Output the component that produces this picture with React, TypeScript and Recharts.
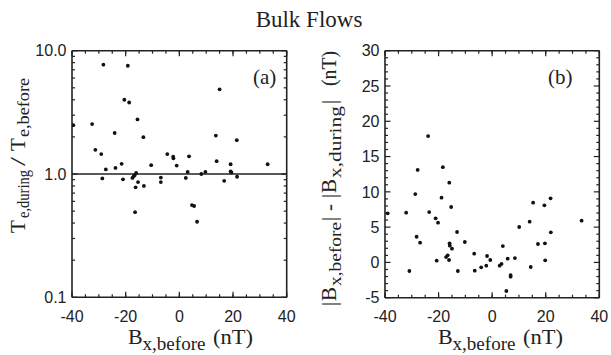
import React from "react";
import { ScatterChart, Scatter, XAxis, YAxis, ReferenceLine } from "recharts";

// ---------- data ----------
// Panel (a): B_x,before (nT) vs Te,during / Te,before
const bxA = [-39.5, -32.5, -31.3, -29.1, -28.3, -27.4, -28.7, -23.8, -24.1, -21.5, -21.0, -20.5, -19.2, -18.7, -17.5, -17.0, -16.6, -16.1, -16.3, -15.4, -13.2, -16.5, -15.6, -13.4, -10.5, -6.9, -6.9, -4.5, -2.3, -2.2, -1.0, 2.4, 3.1, 3.6, 4.7, 5.5, 6.6, 8.2, 9.7, 13.6, 13.9, 15.0, 16.7, 19.1, 19.1, 19.4, 21.4, 21.5, 32.9];
const teRatio = [2.49, 2.54, 1.57, 1.45, 7.7, 1.09, 0.92, 1.12, 2.15, 1.21, 0.905, 4.0, 7.55, 3.8, 0.93, 0.96, 0.98, 1.02, 0.78, 0.86, 0.8, 0.49, 2.77, 1.99, 1.18, 0.935, 0.86, 1.45, 1.38, 1.34, 1.17, 0.93, 1.04, 1.39, 0.56, 0.55, 0.41, 1.0, 1.04, 2.05, 1.27, 4.86, 0.88, 1.2, 1.05, 1.03, 1.88, 0.95, 1.2];

// Panel (b): B_x,before (nT) vs |Bx,before| - |Bx,during| (nT)
const bxB = [-39.0, -32.1, -30.9, -28.7, -27.8, -28.2, -26.9, -23.9, -23.5, -21.1, -20.2, -20.7, -18.4, -18.9, -16.0, -15.3, -17.2, -16.6, -16.1, -15.9, -15.8, -15.0, -13.1, -12.8, -10.2, -6.7, -6.5, -4.1, -1.9, -2.2, -0.7, 2.8, 3.5, 4.0, 5.8, 5.3, 6.9, 6.9, 8.5, 10.1, 14.0, 14.4, 15.3, 17.1, 19.5, 19.7, 19.8, 21.8, 21.9, 33.4];
const dBx = [6.96, 7.05, -1.22, 9.69, 13.1, 3.64, 2.8, 17.9, 7.14, 6.25, 5.63, 0.24, 13.5, 9.17, 11.3, 7.85, 0.75, 1.0, 0.34, 2.7, 2.37, 1.94, 4.31, -1.22, 2.89, 1.24, -1.17, -0.7, 0.91, -0.46, 0.34, -0.46, -0.22, 2.32, 0.53, -4.05, -1.79, -2.02, 0.62, 5.02, 5.77, -0.65, 8.46, 2.61, 8.09, 2.7, 0.3, 9.08, 4.27, 5.91];

// ticks
const xMajorTicks = [-40, -20, 0, 20, 40];
const xMinorTicks = [-40, -35, -30, -25, -20, -15, -10, -5, 0, 5, 10, 15, 20, 25, 30, 35, 40];
const logMajorTicks = [0.1, 1, 10];
const logMinorTicks = [0.2, 0.3, 0.4, 0.5, 0.6, 0.7, 0.8, 0.9, 2, 3, 4, 5, 6, 7, 8, 9];
const linMajorTicks = [-5, 0, 5, 10, 15, 20, 25, 30];
const linMinorTicks = [-4, -3, -2, -1, 1, 2, 3, 4, 6, 7, 8, 9, 11, 12, 13, 14, 16, 17, 18, 19, 21, 22, 23, 24, 26, 27, 28, 29];

const dataA = bxA.map((x, i) => ({ x, y: teRatio[i] }));
const dataB = bxB.map((x, i) => ({ x, y: dBx[i] }));

// ---------- layout / style ----------
const W = 611;
const H = 355;
const INK = "#222";
const SANS = "'Liberation Sans', Arial, sans-serif";
const SERIF = "'Liberation Serif', 'Times New Roman', serif";
const AXW = 40;
const AXH = 30;
const TOPH = 10;
const RIGHTW = 10;

type Frame = { left: number; right: number; top: number; bottom: number };
const frameA: Frame = { left: 72, right: 286.7, top: 50.7, bottom: 297.3 };
const frameB: Frame = { left: 385, right: 599.3, top: 50.7, bottom: 297.7 };

const marginFor = (f: Frame) => ({
  left: f.left - AXW,
  right: W - f.right - RIGHTW,
  top: f.top - TOPH,
  bottom: H - f.bottom - AXH,
});

const Dot = (props: any) => <circle cx={props.cx} cy={props.cy} r={1.9} fill="#111" />;
const blank = () => "";

type PanelProps = {
  frame: Frame;
  data?: { x: number; y: number }[];
  yDomain: [number, number];
  yScale: "log" | "linear";
  yTicks: number[];
  xTicks: number[];
  minor: boolean;
  yFmt?: (v: number) => string;
  refY?: number;
};

function Panel({ frame, data, yDomain, yScale, yTicks, xTicks, minor, yFmt, refY }: PanelProps) {
  const len = minor ? -3 : -5.5;
  const axisStyle = minor ? false : { stroke: INK, strokeWidth: 1.6 };
  const tickLine = { stroke: INK, strokeWidth: 1.2 };
  const labelStyle = { fill: INK, fontSize: 16, fontFamily: SANS };
  return (
    <div style={{ position: "absolute", left: 0, top: 0 }}>
      <ScatterChart width={W} height={H} margin={marginFor(frame)}>
        <XAxis xAxisId="b" type="number" dataKey="x" domain={[-40, 40]} ticks={xTicks} interval={0}
          orientation="bottom" height={AXH} allowDataOverflow tickSize={len} tickMargin={18.5}
          axisLine={axisStyle} tickLine={tickLine} tick={labelStyle}
          tickFormatter={minor ? blank : (v: number) => String(v)} />
        <XAxis xAxisId="t" type="number" dataKey="x" domain={[-40, 40]} ticks={xTicks} interval={0}
          orientation="top" height={TOPH} allowDataOverflow tickSize={len}
          axisLine={axisStyle} tickLine={tickLine} tick={labelStyle} tickFormatter={blank} />
        <YAxis yAxisId="l" type="number" dataKey="y" scale={yScale} domain={yDomain} ticks={yTicks} interval={0}
          orientation="left" width={AXW} allowDataOverflow tickSize={len} tickMargin={11}
          axisLine={axisStyle} tickLine={tickLine} tick={labelStyle}
          tickFormatter={minor ? blank : yFmt} />
        <YAxis yAxisId="r" type="number" dataKey="y" scale={yScale} domain={yDomain} ticks={yTicks} interval={0}
          orientation="right" width={RIGHTW} allowDataOverflow tickSize={len}
          axisLine={axisStyle} tickLine={tickLine} tick={labelStyle} tickFormatter={blank} />
        {refY !== undefined && !minor && (
          <ReferenceLine xAxisId="b" yAxisId="l" y={refY} stroke={INK} strokeWidth={1.6} />
        )}
        {data && (
          <Scatter xAxisId="b" yAxisId="l" data={data} shape={Dot} isAnimationActive={false} />
        )}
      </ScatterChart>
    </div>
  );
}

const fmtLog = (v: number) => v.toFixed(1);
const fmtLin = (v: number) => String(v);

// rotated label pieces: text, start (page y, reading upward), baseline (page x), size, forced length
type Seg = { t: string; y: number; base: number; size: number; len?: number };
const leftLabel: Seg[] = [
  { t: "T", y: 233, base: 25, size: 21 },
  { t: "e,during", y: 218, base: 29, size: 16, len: 48 },
  { t: "/", y: 166, base: 25, size: 21, len: 9 },
  { t: "T", y: 151, base: 25, size: 21 },
  { t: "e,before", y: 137, base: 29, size: 16, len: 59 },
];
const rightLabel: Seg[] = [
  { t: "|", y: 306, base: 336, size: 21 },
  { t: "B", y: 301, base: 336, size: 21 },
  { t: "x,before", y: 286, base: 341, size: 16.5, len: 64 },
  { t: "|", y: 221, base: 336, size: 21 },
  { t: "-", y: 211, base: 336, size: 21 },
  { t: "|", y: 198, base: 336, size: 21 },
  { t: "B", y: 193, base: 336, size: 21 },
  { t: "x,during", y: 178, base: 341, size: 16.5, len: 72 },
  { t: "|", y: 104, base: 336, size: 21 },
  { t: "(nT)", y: 86, base: 336, size: 21, len: 35 },
];

const VLabel = ({ segs }: { segs: Seg[] }) => (
  <g>
    {segs.map((s, i) => (
      <text
        key={i}
        transform={`translate(${s.base},${s.y}) rotate(-90)`}
        fontSize={s.size}
        textLength={s.len}
        lengthAdjust={s.len ? "spacingAndGlyphs" : undefined}
      >
        {s.t}
      </text>
    ))}
  </g>
);

const XLabel = ({ x }: { x: number }) => (
  <g>
    <text x={x} y={344} fontSize={22}>B</text>
    <text x={x + 14.5} y={350} fontSize={18} textLength={63} lengthAdjust="spacingAndGlyphs">x,before</text>
    <text x={x + 85} y={344} fontSize={22} textLength={40} lengthAdjust="spacingAndGlyphs">(nT)</text>
  </g>
);

export default function App() {
  return (
    <div style={{ position: "absolute", left: 0, top: 0, width: W, height: H, background: "#fff" }}>
      <Panel frame={frameA} yDomain={[0.1, 10]} yScale="log" yTicks={logMinorTicks} xTicks={xMinorTicks} minor />
      <Panel frame={frameA} data={dataA} yDomain={[0.1, 10]} yScale="log" yTicks={logMajorTicks} xTicks={xMajorTicks} minor={false} yFmt={fmtLog} refY={1} />
      <Panel frame={frameB} yDomain={[-5, 30]} yScale="linear" yTicks={linMinorTicks} xTicks={xMinorTicks} minor />
      <Panel frame={frameB} data={dataB} yDomain={[-5, 30]} yScale="linear" yTicks={linMajorTicks} xTicks={xMajorTicks} minor={false} yFmt={fmtLin} />

      <svg width={W} height={H} style={{ position: "absolute", left: 0, top: 0, pointerEvents: "none" }}>
        <g fontFamily={SERIF} fill={INK}>
          <text x={309} y={27} textAnchor="middle" fontSize={23}>Bulk Flows</text>
          <text x={253} y={84} fontSize={21}>(a)</text>
          <text x={548} y={84} fontSize={21}>(b)</text>
          <XLabel x={128} />
          <XLabel x={438} />
          <VLabel segs={leftLabel} />
          <VLabel segs={rightLabel} />
        </g>
      </svg>
    </div>
  );
}
